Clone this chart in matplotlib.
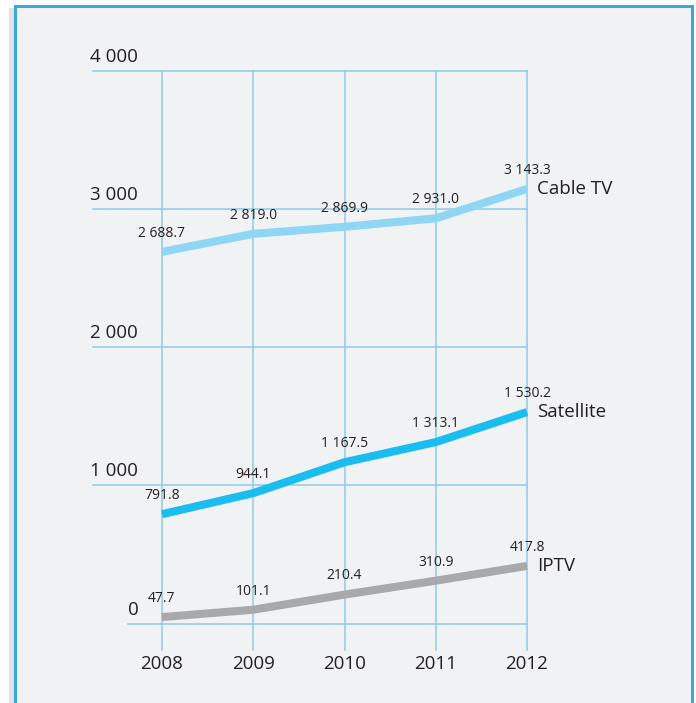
import matplotlib.pyplot as plt
from matplotlib.patches import Rectangle

years = [2008, 2009, 2010, 2011, 2012]
cable = [2688.7, 2819.0, 2869.9, 2931.0, 3143.3]
satellite = [791.8, 944.1, 1167.5, 1313.1, 1530.2]
iptv = [47.7, 101.1, 210.4, 310.9, 417.8]
series_names = ['Cable TV', 'Satellite', 'IPTV']
series_colors = ['#8fd6f5', '#1abdf0', '#a8a9ab']
y_ticks = [0, 1000, 2000, 3000, 4000]


def fmt(v, dec=1):
    s = f'{v:,.{dec}f}'
    return s.replace(',', ' ')


plt.rcParams['font.family'] = ['Open Sans', 'DejaVu Sans']
W, H = 696, 703
fig = plt.figure(figsize=(W / 100, H / 100), dpi=100)
fig.patch.set_facecolor('white')

# frame with a little shadow on the left
fig.patches.append(Rectangle((9 / W, -0.05), 6 / W, 1 - 8 / H + 0.05, transform=fig.transFigure,
                             facecolor='#d6d7d9', edgecolor='none', alpha=0.7, zorder=-2))
fig.patches.append(Rectangle((15 / W, -0.05), (692 - 15) / W, 1 - 6 / H + 0.05,
                             transform=fig.transFigure, facecolor='#f1f2f4',
                             edgecolor='#3ba8d6', linewidth=2.2, zorder=-1))

# axes placed so that years / values land where they are in the picture
x0, x1 = 162, 527
y0, y1 = 623.7, 70.5
ax = fig.add_axes([x0 / W, 1 - y0 / H, (x1 - x0) / W, (y0 - y1) / H])
ax.set_zorder(2)
ax.set_xlim(2008, 2012)
ax.set_ylim(0, 4000)
ax.axis('off')
ax.patch.set_alpha(0)

px_x = (2012 - 2008) / (x1 - x0)
px_y = 4000 / (y0 - y1)
grid_c = '#8ccbe6'

for t in y_ticks:
    start = 2008 - (162 - (128 if t == 0 else 93)) * px_x
    ax.plot([start, 2012], [t, t], color=grid_c, lw=1.1, clip_on=False, zorder=1)
    ax.text(start - 3 * px_x if t else start, t + 5 * px_y, fmt(t, 0), fontsize=13.5,
            color='#231f20', ha='left', va='bottom')

for yr in years:
    ax.plot([yr, yr], [-(650 - y0) * px_y, 4000], color=grid_c, lw=1.1, clip_on=False, zorder=1)
    ax.text(yr, -(664 - y0) * px_y, str(yr), fontsize=13.5, color='#231f20',
            ha='center', va='center')

for name, vals, col in zip(series_names, [cable, satellite, iptv], series_colors):
    ax.plot(years, vals, color=col, lw=5.8, solid_capstyle='butt', solid_joinstyle='round',
            clip_on=False, zorder=3)
    for yr, v in zip(years, vals):
        ax.annotate(fmt(v), (yr, v), xytext=(0, 8), textcoords='offset points',
                    ha='center', va='bottom', fontsize=10, color='#231f20', zorder=4)
    ax.annotate(name, (years[-1], vals[-1]), xytext=(7, 0), textcoords='offset points',
                ha='left', va='center', fontsize=13.5, color='#231f20')

fig.savefig('out.png', dpi=100, facecolor='white')
